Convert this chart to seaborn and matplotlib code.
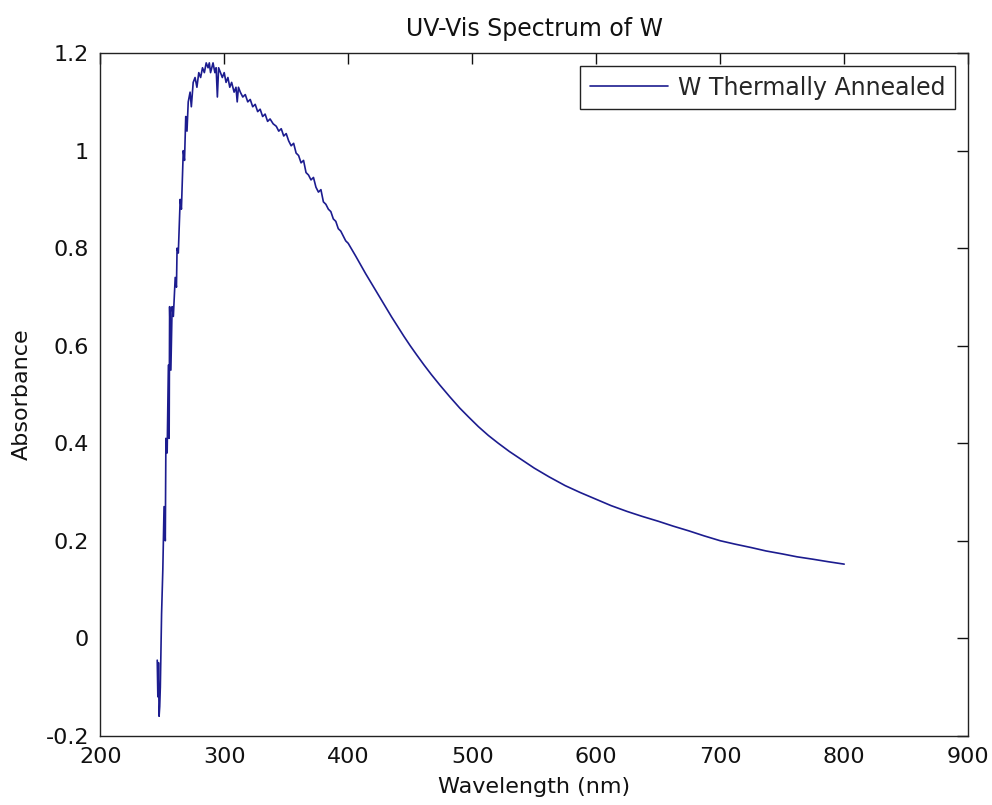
import pandas as pd
import seaborn as sns
import matplotlib
matplotlib.use('Agg')
import matplotlib.pyplot as plt

# Values
wavelength = [246.0, 246.5, 247.0, 247.5, 248.0, 248.5, 249.5, 250.5, 251.5, 252.5,
              253.0, 254.0, 255.0, 255.6, 256.0, 257.0, 258.0, 259.0, 260.5, 261.5,
              262.0, 263.0, 264.5, 265.5, 267.0, 268.0, 269.0, 270.0, 271.0, 272.5,
              273.5, 275.0, 276.5, 278.0, 279.5, 281.0, 282.5, 284.0, 285.5, 287.0,
              288.0, 289.0, 290.0, 291.0, 292.5, 293.5, 294.5, 295.5, 297.0, 298.5,
              300.0, 301.5, 303.0, 304.5, 306.0, 308.0, 309.5, 310.5, 311.5, 313.0,
              315.0, 317.0, 319.0, 321.0, 323.0, 325.0, 327.0, 329.0, 331.0, 333.0,
              335.0, 337.0, 339.5, 342.0, 344.0, 346.0, 348.0, 350.0, 352.0, 354.0,
              356.0, 358.0, 360.0, 362.0, 364.0, 366.0, 368.0, 370.0, 372.0, 374.0,
              376.0, 378.0, 380.0, 382.0, 384.0, 386.0, 388.0, 390.0, 392.0, 394.0,
              396.0, 398.0, 400.0, 403.0, 406.0, 410.0, 414.0, 418.0, 422.0, 426.0,
              430.0, 435.0, 440.0, 445.0, 450.0, 455.0, 461.0, 467.0, 474.0, 482.0,
              490.0, 497.0, 505.0, 513.0, 521.0, 530.0, 540.0, 550.0, 562.0, 575.0,
              587.0, 600.0, 612.0, 625.0, 637.0, 650.0, 662.0, 675.0, 687.0, 700.0,
              712.0, 725.0, 737.0, 750.0, 762.0, 775.0, 787.0, 800.0]
absorbance = [-0.045, -0.12, -0.05, -0.16, -0.14, -0.10, 0.05, 0.14, 0.27, 0.20,
              0.41, 0.38, 0.56, 0.41, 0.68, 0.55, 0.68, 0.66, 0.74, 0.72,
              0.80, 0.79, 0.90, 0.88, 1.00, 0.98, 1.07, 1.04, 1.10, 1.12,
              1.09, 1.14, 1.15, 1.13, 1.16, 1.15, 1.17, 1.16, 1.18, 1.17,
              1.18, 1.16, 1.17, 1.18, 1.16, 1.17, 1.11, 1.17, 1.16, 1.15,
              1.16, 1.14, 1.15, 1.13, 1.14, 1.12, 1.13, 1.10, 1.13, 1.12,
              1.11, 1.115, 1.10, 1.105, 1.09, 1.095, 1.08, 1.085, 1.07, 1.075,
              1.06, 1.065, 1.055, 1.05, 1.04, 1.045, 1.03, 1.035, 1.02, 1.01,
              1.015, 0.995, 0.99, 0.975, 0.98, 0.955, 0.95, 0.94, 0.945, 0.925,
              0.915, 0.92, 0.895, 0.89, 0.88, 0.875, 0.86, 0.855, 0.84, 0.835,
              0.825, 0.815, 0.81, 0.797, 0.784, 0.766, 0.748, 0.731, 0.714, 0.697,
              0.680, 0.659, 0.639, 0.619, 0.600, 0.582, 0.561, 0.541, 0.519, 0.495,
              0.472, 0.454, 0.434, 0.416, 0.400, 0.383, 0.366, 0.349, 0.331, 0.313,
              0.299, 0.285, 0.272, 0.260, 0.250, 0.240, 0.230, 0.220, 0.210, 0.200,
              0.193, 0.186, 0.179, 0.173, 0.167, 0.162, 0.157, 0.152]

x_ticks = [200, 300, 400, 500, 600, 700, 800, 900]
y_ticks = [-0.2, 0, 0.2, 0.4, 0.6, 0.8, 1.0, 1.2]
y_tick_labels = ['-0.2', '0', '0.2', '0.4', '0.6', '0.8', '1', '1.2']

df = pd.DataFrame({'Wavelength': wavelength, 'Absorbance': absorbance})

sns.set_style('white')
plt.rcParams['font.family'] = ['DejaVu Sans']

fig = plt.figure(figsize=(9.92, 8.05), dpi=100)
ax = fig.add_axes([0.101, 0.086, 0.875, 0.848])

sns.lineplot(data=df, x='Wavelength', y='Absorbance', ax=ax, color='#1c1c8f',
             linewidth=1.2, estimator=None, sort=False, label='W Thermally Annealed')

ax.set_xlim(200, 900)
ax.set_ylim(-0.2, 1.2)
ax.set_xticks(x_ticks)
ax.set_xticklabels([str(t) for t in x_ticks])
ax.set_yticks(y_ticks)
ax.set_yticklabels(y_tick_labels)
ax.tick_params(direction='in', length=8, width=1, top=True, right=True,
               labelsize=16, colors='#111111', pad=8)
for s in ax.spines.values():
    s.set_visible(True)
    s.set_color('#222222')
    s.set_linewidth(1)

ax.set_xlabel('Wavelength (nm)', fontsize=16, labelpad=7, color='#111111')
ax.set_ylabel('Absorbance', fontsize=16, labelpad=10, color='#111111')
ax.set_title('UV-Vis Spectrum of W', fontsize=17, pad=12, color='#111111')

leg = ax.legend(loc='upper right', fontsize=17, frameon=True, fancybox=False,
                handlelength=3.3, handletextpad=0.45, borderaxespad=0.55, borderpad=0.4)
leg.get_frame().set_edgecolor('#222222')
leg.get_frame().set_linewidth(1)
leg.get_frame().set_alpha(1)

plt.savefig('out.png', dpi=100)
plt.close()
